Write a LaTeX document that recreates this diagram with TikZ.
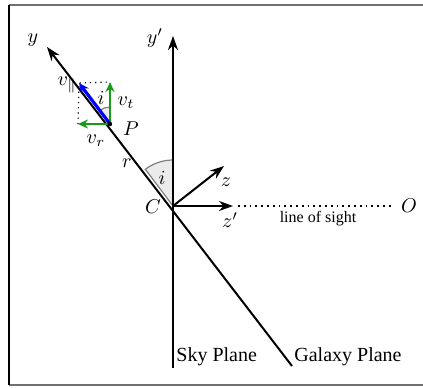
\documentclass[tikz,border=0pt]{standalone}
\usepackage{fontspec}
\setmainfont{Liberation Serif}
\usetikzlibrary{arrows.meta}
\definecolor{ArcGray}{HTML}{EBEBEB}
\definecolor{VecGreen}{HTML}{169B16}
\definecolor{FrameGray}{HTML}{707070}

\begin{document}
\begin{tikzpicture}[x=0.5pt, y=-0.5pt,
  axis/.style={-{Stealth[length=7pt,width=5pt]}, line width=1pt},
  vpar/.style={-{Stealth[length=5pt,width=4.5pt]}, line width=1.6pt, color=blue},
  vcomp/.style={-{Stealth[length=5pt,width=4.5pt]}, line width=1.3pt, color=VecGreen},
  angarc/.style={fill=ArcGray, draw=gray, line width=0.6pt},
  lbl/.style={inner sep=0pt}
]
  \useasboundingbox (0,0) rectangle (423,387);
  % frame
  \draw[FrameGray, line width=0.8pt] (9,5) -- (423,5);
  \draw[FrameGray, line width=0.8pt] (9,385) -- (423,385);
  \draw[line width=0.8pt] (9,5) -- (9,385);

  \coordinate (C)     at (173,206);
  \coordinate (skyt)  at (173,36);
  \coordinate (skyb)  at (173,368);
  \coordinate (yt)    at (47,47);
  \coordinate (galb)  at (292,366);
  \coordinate (P)     at (110,124);
  \coordinate (vpt)   at (79,83);
  \coordinate (vtt)   at (110,82);
  \coordinate (vrt)   at (78,124);
  \coordinate (zt)    at (224,166);
  \coordinate (zpt)   at (233,206);
  \coordinate (lose)  at (394,206);

  % angle i at C and at P
  \filldraw[angarc] (C) -- ++(0,-46) arc[start angle=-90, end angle=-127, radius=46] -- cycle;
  \filldraw[angarc] (P) -- ++(0,-17) arc[start angle=-90, end angle=-127, radius=17] -- cycle;

  % planes and axes
  \draw[axis]  (skyb) -- (skyt);
  \draw[axis]  (galb) -- (yt);
  \draw[axis]  (C) -- (zt);
  \draw[axis]  (C) -- (zpt);
  \draw[dotted, line width=0.9pt] (zpt) ++(5,0) -- (lose);

  % velocity components
  \draw[dotted, line width=0.6pt] (vrt) -- (vpt) -- (vtt);
  \draw[vcomp] (P) -- (vtt);
  \draw[vcomp] (P) -- (vrt);
  \draw[vpar]  (P) -- (vpt);
  \fill (P) circle (2.2);

  \node[lbl] (ylab)   at (33,40)   {$y$};
  \node[lbl] (yplab)  at (155,38)  {$y'$};
  \node[lbl] (vplab)  at (67,85)   {$v_{\|}$};
  \node[lbl] (iPlab)  at (101,98)  {$i$};
  \node[lbl] (vtlab)  at (126,103) {$v_t$};
  \node[lbl] (vrlab)  at (96,141)  {$v_r$};
  \node[lbl] (Plab)   at (131,129) {$P$};
  \node[lbl] (rlab)   at (127,163) {$r$};
  \node[lbl] (iClab)  at (162,178) {$i$};
  \node[lbl] (Clab)   at (153,207) {$C$};
  \node[lbl] (zlab)   at (226,182) {$z$};
  \node[lbl] (zplab)  at (230,220) {$z'$};
  \node[lbl] (Olab)   at (409,206) {$O$};
  \node[lbl, font=\footnotesize] (loslab) at (318,219) {line of sight};
  \node[lbl, anchor=west] (skylab) at (176,357) {Sky Plane};
  \node[lbl, anchor=west] (gallab) at (294,357) {Galaxy Plane};
\end{tikzpicture}
\end{document}
